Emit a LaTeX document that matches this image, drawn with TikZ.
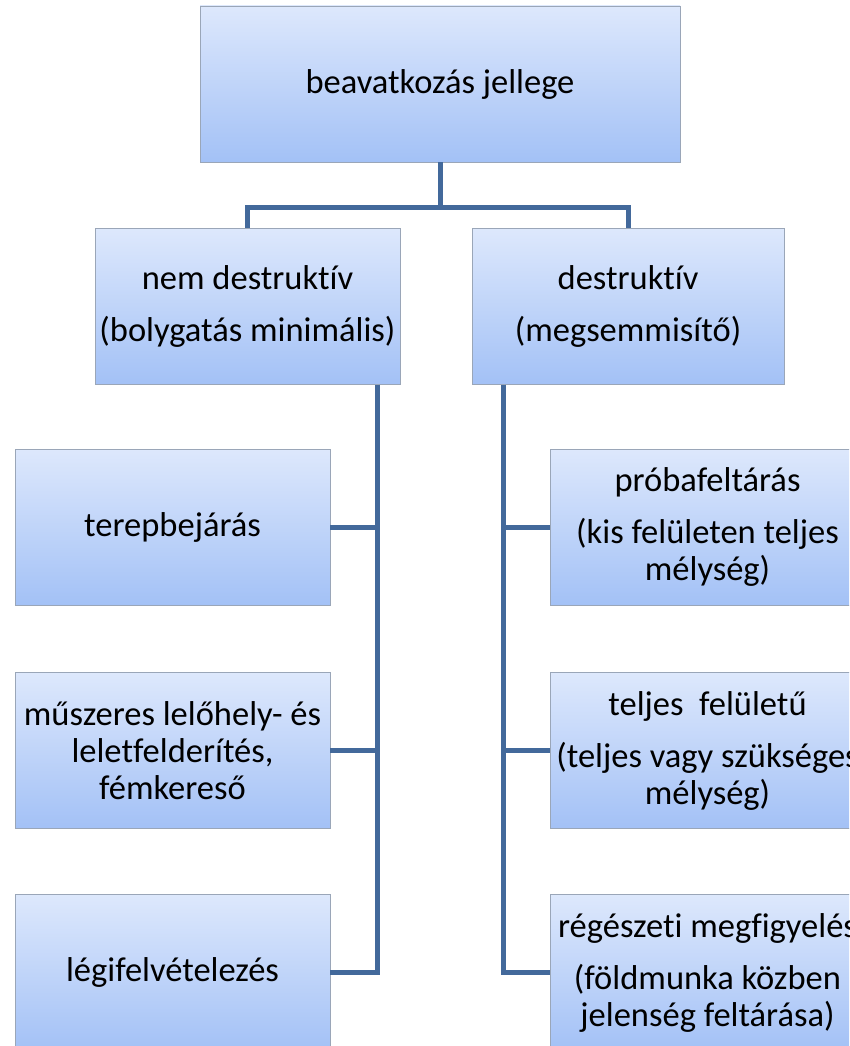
\documentclass[tikz,border=0pt]{standalone}
\usepackage{fontspec}
\setmainfont{Carlito}[Ligatures={NoCommon}]
\usepackage{tikz}
\usetikzlibrary{positioning,calc}
\definecolor{boxtop}{HTML}{DDE8FC}
\definecolor{boxbot}{HTML}{A3C1F6}
\definecolor{boxline}{HTML}{9AA6B8}
\definecolor{linkblue}{HTML}{43699B}
\begin{document}
\begin{tikzpicture}[
    font=\fontsize{34.5}{37}\selectfont,
    node distance=67pt,
    catbox/.style={draw=boxline, line width=0.8pt, top color=boxtop, bottom color=boxbot, minimum width=315pt, minimum height=156pt, align=center, inner sep=2pt},
    link/.style={draw=linkblue, line width=5pt}
]
\useasboundingbox (0,0) rectangle (849pt,-1046pt);
\clip (0,0) rectangle (849pt,-1046pt);

\node[catbox, minimum width=480pt] (top) at (440pt,-84pt) {beavatkozás jellege};
\node[catbox, minimum width=305pt] (nd) at (247.5pt,-306.5pt) {nem destruktív\\[15pt](bolygatás minimális)};
\node[catbox, minimum width=312pt] (d) at (628pt,-306.5pt) {destruktív\\[15pt](megsemmisítő)};

% bal oszlop
\node[catbox] (tb) at (172.5pt,-527pt) {terepbejárás};
\node[catbox, below=67pt of tb] (mu) {műszeres lelőhely- és\\leletfelderítés,\\fémkereső};
\node[catbox, below=65pt of mu] (lf) {légifelvételezés};

% jobb oszlop
\node[catbox] (pf) at (707.5pt,-527pt) {próbafeltárás\\[15pt](kis felületen teljes\\mélység)};
\node[catbox, below=67pt of pf] (tf) {teljes\ \ felületű\\[15pt](teljes vagy szükséges\\mélység)};
\node[catbox, below=65pt of tf] (rm) {régészeti megfigyelés\\[15pt](földmunka közben\\jelenség feltárása)};

\draw[link] (top.south) -- ++(0,-45pt) -| (nd.north);
\draw[link] (top.south) -- ++(0,-45pt) -| (d.north);

\coordinate (ltrunk) at ([xshift=-23pt]nd.south east);
\coordinate (rtrunk) at ([xshift=32pt]d.south west);
\foreach \b in {tb,mu,lf}
  \draw[link] (ltrunk) |- (\b.east);
\foreach \b in {pf,tf,rm}
  \draw[link] (rtrunk) |- (\b.west);
\end{tikzpicture}
\end{document}
